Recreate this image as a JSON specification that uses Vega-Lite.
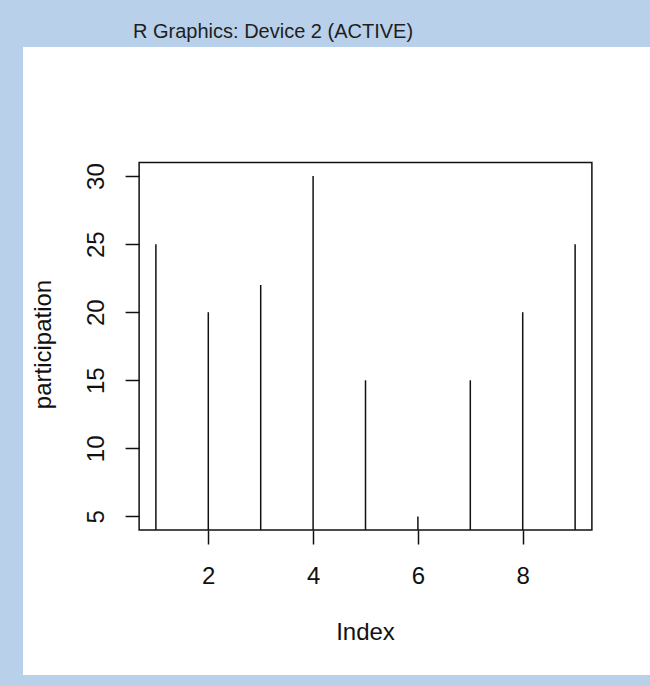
{
  "$schema": "https://vega.github.io/schema/vega-lite/v6.json",
  "width": 627,
  "height": 628,
  "autosize": {"type": "none"},
  "padding": {"left": 23, "top": 47, "right": 0, "bottom": 11},
  "background": "#b8d0ea",
  "title": {
    "text": "R Graphics: Device 2 (ACTIVE)",
    "anchor": "start",
    "frame": "group",
    "dx": 110,
    "dy": 20,
    "offset": 9,
    "baseline": "alphabetic",
    "font": "Liberation Sans",
    "fontSize": 20,
    "fontWeight": "normal",
    "color": "#1e1e1e"
  },
  "config": {
    "view": {"fill": "white", "stroke": null},
    "font": "Liberation Sans"
  },
  "datasets": {
    "plotRegion": [{"xmin": 0.68, "xmax": 9.32, "ymin": 4, "ymax": 31}],
    "participation": [
      {"Index": 1, "participation": 25},
      {"Index": 2, "participation": 20},
      {"Index": 3, "participation": 22},
      {"Index": 4, "participation": 30},
      {"Index": 5, "participation": 15},
      {"Index": 6, "participation": 5},
      {"Index": 7, "participation": 15},
      {"Index": 8, "participation": 20},
      {"Index": 9, "participation": 25}
    ]
  },
  "layer": [
    {
      "data": {"name": "plotRegion"},
      "mark": {"type": "rect", "fill": null, "stroke": "#111", "strokeWidth": 1.5},
      "encoding": {
        "x": {
          "field": "xmin",
          "type": "quantitative",
          "scale": {"domain": [-1.536, 10.429], "nice": false, "zero": false},
          "axis": {
            "title": "Index",
            "values": [2, 4, 6, 8],
            "offset": -145,
            "domain": false,
            "grid": false,
            "ticks": true,
            "tickSize": 14,
            "tickWidth": 1.5,
            "tickColor": "#111",
            "labelFont": "Liberation Sans",
            "labelFontSize": 24,
            "labelColor": "#111",
            "labelBaseline": "alphabetic",
            "labelPadding": 39,
            "labelFlush": false,
            "labelOverlap": false,
            "titleFont": "Liberation Sans",
            "titleFontSize": 24,
            "titleFontWeight": "normal",
            "titleColor": "#111",
            "titleX": 342,
            "titleY": 109,
            "titleAlign": "center",
            "titleBaseline": "alphabetic"
          }
        },
        "x2": {"field": "xmax"},
        "y": {
          "field": "ymin",
          "type": "quantitative",
          "scale": {"domain": [-6.654, 39.486], "nice": false, "zero": false},
          "axis": {
            "title": "participation",
            "values": [5, 10, 15, 20, 25, 30],
            "offset": -116.1,
            "domain": false,
            "grid": false,
            "ticks": true,
            "tickSize": 14,
            "tickWidth": 1.5,
            "tickColor": "#111",
            "labelFont": "Liberation Sans",
            "labelFontSize": 24,
            "labelColor": "#111",
            "labelAngle": 270,
            "labelAlign": "center",
            "labelBaseline": "alphabetic",
            "labelPadding": 22,
            "labelFlush": false,
            "labelOverlap": false,
            "titleFont": "Liberation Sans",
            "titleFontSize": 24,
            "titleFontWeight": "normal",
            "titleColor": "#111",
            "titleAngle": 270,
            "titleX": -89,
            "titleY": 297,
            "titleAlign": "center",
            "titleBaseline": "alphabetic"
          }
        },
        "y2": {"field": "ymax"}
      }
    },
    {
      "data": {"name": "participation"},
      "mark": {"type": "rule", "stroke": "#111", "strokeWidth": 1.5},
      "encoding": {
        "x": {"field": "Index", "type": "quantitative"},
        "y": {"field": "participation", "type": "quantitative"},
        "y2": {"datum": 4}
      }
    }
  ]
}
